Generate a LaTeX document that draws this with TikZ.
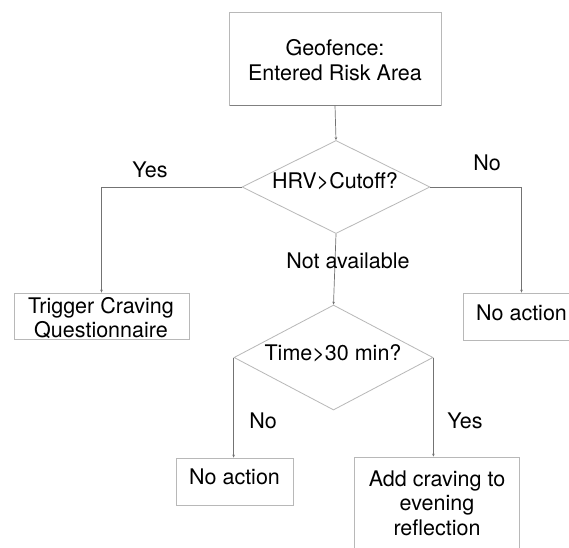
\documentclass[tikz,border=0pt]{standalone}
\usepackage{fontspec}
\setmainfont{TeX Gyre Heros}
\usetikzlibrary{shapes.geometric,arrows.meta}
\begin{document}
\begin{tikzpicture}[x=1pt,y=-1pt,
  boxline/.style={draw=black!28,line width=0.8pt},
  conn/.style={draw=black!55,line width=0.7pt,-{Stealth[length=3pt,width=2.6pt]}},
  plainconn/.style={draw=black!55,line width=0.7pt},
  txt/.style={font=\fontsize{21.5}{24.5}\selectfont,align=center,inner sep=0pt},
  lbl/.style={font=\fontsize{21.5}{24.5}\selectfont,inner sep=0pt,text height=0.72em,text depth=0pt},
  rbox/.style={boxline,rectangle,inner sep=0pt,fill=white},
  dia/.style={boxline,diamond,inner sep=0pt,fill=white}]
\useasboundingbox (0,0) rectangle (569,547);
\fill[white] (0,0) rectangle (569,547);
% boxes
\node[rbox,minimum width=212pt,minimum height=93pt] (geo) at (335,58.5) {};
\draw[black!50,line width=1pt] (229.5,105.5) -- (441,105.5);
\node[txt] (geot) at (335,60) {Geofence:\\Entered Risk Area};
\node[dia,minimum width=188pt,minimum height=93pt] (d1) at (336,187) {};
\node[lbl] (d1t) at (335,185) {HRV>Cutoff?};
\node[rbox,minimum width=175pt,minimum height=46pt] (trig) at (101.5,316) {};
\node[txt] (trigt) at (101,318) {Trigger Craving\\Questionnaire};
\node[rbox,minimum width=117pt,minimum height=47pt] (na1) at (521.5,316.5) {};
\node[lbl] (na1t) at (521.5,316.5) {No action};
\node[dia,minimum width=199pt,minimum height=105pt] (d2) at (333.5,357.5) {};
\node[lbl] (d2t) at (333,357) {Time>30 min?};
\node[rbox,minimum width=117pt,minimum height=47pt] (na2) at (234.5,481.5) {};
\node[lbl] (na2t) at (234.5,481) {No action};
\node[rbox,minimum width=165pt,minimum height=110pt] (add) at (436.5,512) {};
\node[txt] (addt) at (437,503) {Add craving to\\evening\\reflection};
% connectors
\draw[conn] (geo.south) -- (d1.north);
\draw[conn] (d1.west) -| (trig.north);
\draw[conn] (d1.east) -| (na1.north);
\draw[conn] (d1.south) -- (d2.north);
\draw[conn] (d2.west) -- (d2.west |- na2.north);
\draw[conn] (d2.east) -- (d2.east |- add.north);
% labels
\node[lbl] (yes1) at (150,174) {Yes};
\node[lbl] (no1) at (487,167) {No};
\node[lbl] (nav) at (348,265) {Not available};
\node[lbl] (no2) at (263,425) {No};
\node[lbl] (yes2) at (465,425) {Yes};
\end{tikzpicture}
\end{document}
